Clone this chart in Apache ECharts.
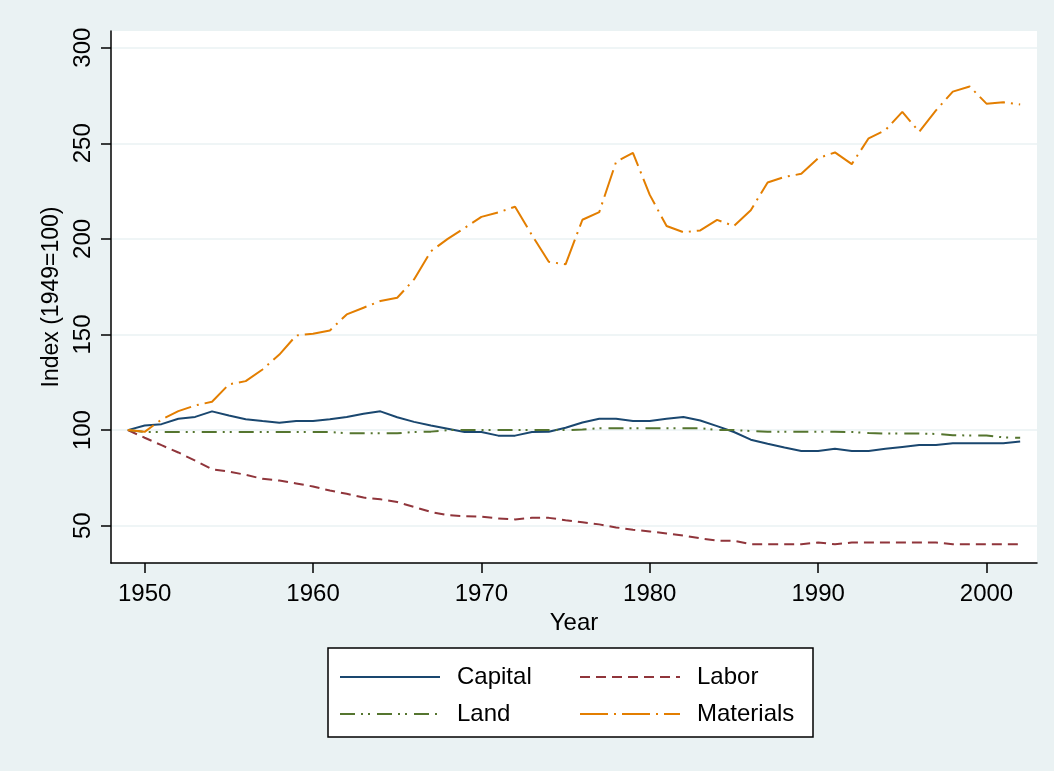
<!DOCTYPE html>
<html>
<head>
<meta charset="utf-8">
<script src="https://cdn.jsdelivr.net/npm/echarts@6/dist/echarts.min.js"></script>
<style>
  html, body { margin: 0; padding: 0; background: #fff; }
  #chart { width: 1054px; height: 771px; }
</style>
</head>
<body>
<div id="chart"></div>
<script>
// index values, 1949 = 100
const years = [];
for (let y = 1949; y <= 2002; y++) years.push(y);

const capital = [100, 102.4, 103.1, 105.9, 106.9, 109.8, 107.6, 105.7, 104.7, 103.8,
  104.7, 104.8, 105.7, 106.9, 108.6, 109.8, 106.7, 104.3, 102.4, 100.7,
  99, 99, 97.1, 97.1, 99, 99.1, 101.2, 104, 105.9, 105.9,
  104.8, 104.8, 105.9, 106.9, 105, 102.1, 99, 95, 92.9, 90.9,
  89.1, 89.1, 90.2, 89.1, 89.1, 90.2, 91.2, 92.2, 92.2, 93.1,
  93.1, 93.1, 93.1, 94];

const labor = [100, 96, 92.1, 88.3, 84, 79.5, 78.3, 76.6, 74.5, 73.6,
  72.1, 70.5, 68.4, 66.7, 64.7, 63.8, 62.4, 59.8, 57.2, 55.5,
  55, 54.7, 53.8, 53.3, 54.1, 54.1, 52.9, 51.8, 50.7, 49.1,
  47.9, 47, 45.9, 44.8, 43.4, 42.2, 42.1, 40.3, 40.3, 40.3,
  40.3, 41.2, 40.3, 41.2, 41.2, 41.2, 41.2, 41.2, 41.2, 40.3,
  40.3, 40.3, 40.3, 40.3];

const land = [100, 99, 99, 99, 99, 99, 99, 99, 99, 99,
  99, 99, 99, 98.3, 98.3, 98.3, 98.3, 99, 99.2, 100,
  100, 100, 100, 100, 100, 100, 100, 100.3, 101, 101,
  101, 101, 101, 101, 101, 100, 100, 99.5, 99.1, 99.1,
  99.1, 99.1, 99.1, 99, 98.5, 98.2, 98.2, 98.2, 98, 97.3,
  97.2, 97.2, 96.2, 96];

const materials = [100, 99.1, 105.5, 109.9, 112.9, 114.8, 123.9, 125.6, 131.7, 139.5,
  149.5, 150.4, 152.1, 160.5, 164, 167.5, 169.2, 178.8, 193.5, 200,
  205.7, 211.5, 213.8, 216.8, 202, 188, 186.7, 210, 214, 240.3,
  245, 223, 206.7, 203.5, 204.4, 209.9, 206.7, 215, 229.5, 232.4,
  234, 242.2, 245.2, 239.1, 252.6, 256.9, 266.4, 256, 267.2, 277,
  279.7, 270.7, 271.4, 270.3];

const xTicks = [1950, 1960, 1970, 1980, 1990, 2000];
const yTicks = [50, 100, 150, 200, 250, 300];

const FONT = '"Liberation Sans", Arial, sans-serif';
const pairs = arr => years.map((y, i) => [y, arr[i]]);

const chart = echarts.init(document.getElementById('chart'));

const mkSeries = (name, data, color, type) => ({
  name: name,
  type: 'line',
  data: pairs(data),
  symbol: 'none',
  showSymbol: false,
  lineStyle: { color: color, width: 2, type: type },
  itemStyle: { color: color }
});

// one legend per entry so the two columns line up like the original
const mkLegend = (name, left, top) => ({
  left: left,
  top: top,
  padding: 0,
  itemWidth: 100,
  itemHeight: 14,
  selectedMode: false,
  itemStyle: { opacity: 0 },
  textStyle: { fontFamily: FONT, fontSize: 24, color: '#000', padding: [0, 0, 0, 12] },
  data: [name]
});

chart.setOption({
  backgroundColor: '#eaf2f3',
  animation: false,
  grid: {
    left: 111, right: 17, top: 31, bottom: 208,
    show: true, backgroundColor: '#fff', borderWidth: 0
  },
  xAxis: {
    type: 'value',
    min: 1948, max: 2003,
    name: 'Year',
    nameLocation: 'middle',
    nameGap: 43,
    nameTextStyle: { fontFamily: FONT, fontSize: 24, color: '#000' },
    axisLine: { show: true, onZero: false, lineStyle: { color: '#000', width: 1.5 } },
    axisTick: { show: true, length: 10, customValues: xTicks, lineStyle: { color: '#000', width: 1.5 } },
    axisLabel: {
      customValues: xTicks, margin: 19, fontFamily: FONT, fontSize: 24, color: '#000',
      formatter: v => String(v)
    },
    splitLine: { show: false }
  },
  yAxis: {
    type: 'value',
    min: 30.5, max: 308.7,
    name: 'Index (1949=100)',
    nameLocation: 'middle',
    nameRotate: 90,
    nameGap: 45,
    nameTextStyle: { fontFamily: FONT, fontSize: 23, color: '#000' },
    axisLine: { show: true, onZero: false, lineStyle: { color: '#000', width: 1.5 } },
    axisTick: { show: true, length: 10, customValues: yTicks, lineStyle: { color: '#000', width: 1.5 } },
    axisLabel: { customValues: yTicks, rotate: 90, margin: 16, fontFamily: FONT, fontSize: 24, color: '#000' },
    splitLine: { show: true, lineStyle: { color: '#eaf2f3', width: 1.5 } }
  },
  graphic: [{
    type: 'rect',
    shape: { x: 328, y: 648, width: 485, height: 89 },
    style: { fill: '#fff', stroke: '#000', lineWidth: 1.5 },
    z: 0
  }],
  legend: [
    mkLegend('Capital', 339, 665),
    mkLegend('Labor', 579, 665),
    mkLegend('Land', 339, 702),
    mkLegend('Materials', 579, 702)
  ],
  series: [
    mkSeries('Capital', capital, '#1a476f', 'solid'),
    mkSeries('Labor', labor, '#90353b', [10, 6]),
    mkSeries('Land', land, '#55752f', [15, 6, 2, 5, 2, 7]),
    mkSeries('Materials', materials, '#e37e00', [28, 6, 2, 6])
  ]
});
</script>
</body>
</html>
